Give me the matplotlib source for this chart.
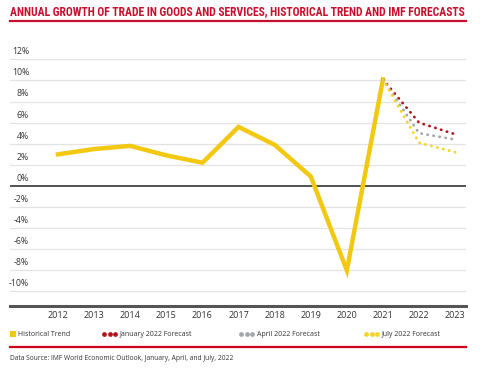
import matplotlib
matplotlib.use('Agg')
import matplotlib.pyplot as plt
import matplotlib.transforms as mtransforms
from matplotlib.lines import Line2D

# Data (% annual growth of world trade volume)
years = [2012, 2013, 2014, 2015, 2016, 2017, 2018, 2019, 2020, 2021]
historical = [3.0, 3.5, 3.8, 2.9, 2.2, 5.6, 3.9, 0.9, -8.0, 10.1]
fc_years = [2021, 2022, 2023]
jan_2022 = [10.1, 6.0, 4.9]
apr_2022 = [10.1, 5.0, 4.4]
jul_2022 = [10.1, 4.1, 3.2]
yticks = [-10, -8, -6, -4, -2, 0, 2, 4, 6, 8, 10, 12]
xticks = list(range(2012, 2024))

red = '#c8102e'
gold = '#f2c811'
dark_red = '#b5121b'
grey = '#a3a7ab'
light_yellow = '#f5d422'
txt = '#333333'

fig = plt.figure(figsize=(4.8, 3.74), dpi=100)
ax = fig.add_axes([10/480, 1-305.7/374, 456/480, 251.6/374])
ax.set_xlim(2010.67, 2023.3)
ax.set_ylim(-11.35, 12.5)

# gridlines + labels sitting above each line
trans = mtransforms.blended_transform_factory(ax.transAxes, ax.transData)
for t in yticks:
    if t == 0:
        ax.axhline(0, color='#333333', lw=1.2, zorder=2)
    else:
        ax.axhline(t, color='#e3e3e3', lw=0.9, zorder=1)
    ax.text(19/456, t + 0.72, f'{t}%', transform=trans, ha='right', va='center',
            fontsize=6.3, color=txt, family='Open Sans')
ax.axhline(-11.35, color='#555555', lw=2.2, zorder=2, clip_on=False)

ax.plot(years, historical, color=gold, lw=3.2, solid_joinstyle='miter', zorder=3)
for vals, col in [(jan_2022, dark_red), (apr_2022, grey), (jul_2022, light_yellow)]:
    ax.plot(fc_years, vals, color=col, lw=2, linestyle=(0, (0.1, 2.1)),
            dash_capstyle='round', zorder=4)

ax.set_xticks(xticks)
ax.set_xticklabels([str(x) for x in xticks], fontsize=6.5, color=txt, family='Open Sans')
ax.tick_params(axis='x', length=0, pad=4)
ax.set_yticks([])
for s in ax.spines.values():
    s.set_visible(False)

# title and rules
title = fig.text(10/480, 1-12/374,
                 'ANNUAL GROWTH OF TRADE IN GOODS AND SERVICES, HISTORICAL TREND AND IMF FORECASTS',
                 color=red, fontsize=7.6, fontweight='bold', fontstretch='condensed',
                 family=['Roboto Condensed', 'Liberation Sans Narrow', 'Roboto', 'DejaVu Sans'],
                 ha='left', va='center')
# shrink title so it spans the same width as the rule under it
renderer = fig.canvas.get_renderer()
w = title.get_window_extent(renderer).width
title.set_fontsize(7.6 * 455 / w)

fig.add_artist(Line2D([10/480, 466/480], [1-20.5/374]*2, color=red, lw=1.6))
fig.add_artist(Line2D([10/480, 466/480], [1-346.5/374]*2, color='#d0021b', lw=1.6))

# legend
ly = 1 - 334/374
fig.add_artist(plt.Rectangle((10/480, 1-337/374), 6/480, 6/374, color=gold, lw=0))
fig.text(18/480, ly, 'Historical Trend', fontsize=5, color=txt, va='center', family='Open Sans')
for x0, col, label in [(104, dark_red, 'January 2022 Forecast'),
                       (241, grey, 'April 2022 Forecast'),
                       (366, light_yellow, 'July 2022 Forecast')]:
    for k in range(3):
        fig.add_artist(Line2D([(x0 + 5.5*k)/480], [ly], marker='o', markersize=2.4,
                              color=col, lw=0))
    fig.text((x0 + 16)/480, ly, label, fontsize=5, color=txt, va='center', family='Open Sans')

fig.text(10/480, 1-358.5/374, 'Data Source: IMF World Economic Outlook, January, April, and July, 2022',
         fontsize=4.8, color=txt, va='center', family='Open Sans')

fig.savefig('out.png', dpi=100, facecolor='white')
